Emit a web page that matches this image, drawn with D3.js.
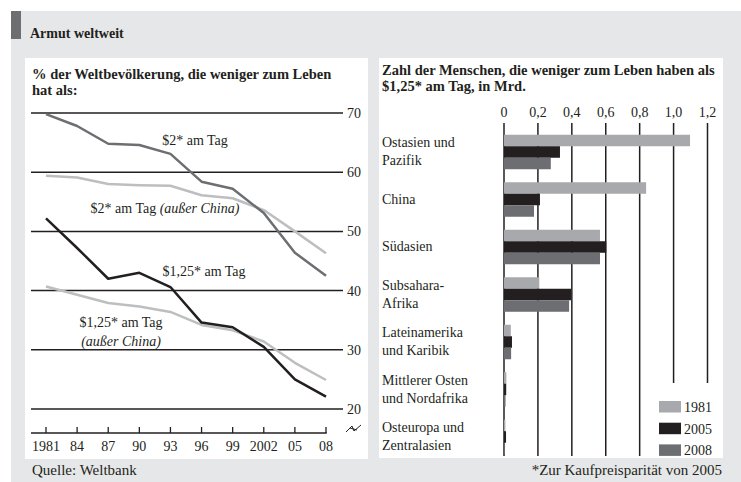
<!DOCTYPE html>
<html>
<head>
<meta charset="utf-8">
<script src="https://cdn.jsdelivr.net/npm/d3@7"></script>
<style>
body{margin:0;background:#fff;}
text{font-family:"Liberation Serif","Times New Roman",serif;fill:#231f20;}
</style>
</head>
<body>
<div></div>
<script>
// linke Grafik: Anteil an der Weltbevölkerung in %
let years = [1981,1984,1987,1990,1993,1996,1999,2002,2005,2008];
let yearLabels = ["1981","84","87","90","93","96","99","2002","05","08"];
let usd2 = [69.8,67.8,64.8,64.6,63.1,58.4,57.2,53.1,46.4,42.5];
let usd2ExChina = [59.4,59.1,58.0,57.8,57.7,56.1,55.6,53.6,50.0,46.3];
let usd125 = [52.2,47.2,42.0,43.0,40.6,34.6,33.8,30.5,25.0,22.1];
let usd125ExChina = [40.7,39.3,37.9,37.3,36.4,34.2,33.3,31.4,27.8,24.9];
let pctTicks = [20,30,40,50,60,70];

// rechte Grafik: Menschen in Mrd.
let regions = [["Ostasien und","Pazifik"],["China"],["Südasien"],["Subsahara-","Afrika"],["Lateinamerika","und Karibik"],["Mittlerer Osten","und Nordafrika"],["Osteuropa und","Zentralasien"]];
let barYears = ["1981","2005","2008"];
let v1981 = [1.097,0.838,0.566,0.208,0.040,0.014,0.008];
let v2005 = [0.330,0.212,0.603,0.395,0.047,0.013,0.012];
let v2008 = [0.276,0.177,0.566,0.384,0.042,0.009,0.004];
let mrdTicks = [0,0.2,0.4,0.6,0.8,1.0,1.2];
let mrdLabels = ["0","0,2","0,4","0,6","0,8","1,0","1,2"];

let black = "#231f20", dark = "#6d6e71", light = "#bcbec0", barLight = "#a7a9ac";

let svg = d3.select("body div").append("svg")
    .attr("width",741).attr("height",482);

// Hintergrund
svg.append("rect").attr("x",11).attr("y",11).attr("width",730).attr("height",471).attr("fill","#e6e7e8");
svg.append("rect").attr("x",11).attr("y",11).attr("width",10).attr("height",28).attr("fill",dark);
svg.append("text").attr("x",30).attr("y",38).attr("font-size",14).attr("font-weight","bold").text("Armut weltweit");
svg.append("rect").attr("x",25).attr("y",58).attr("width",343).attr("height",401).attr("fill","#fff");
svg.append("rect").attr("x",379).attr("y",58).attr("width",344).attr("height",400).attr("fill","#fff");

// ---------- linke Grafik ----------
let x = d3.scaleLinear().domain([1981,2008]).range([46,326]);
let y = d3.scaleLinear().domain([20,70]).range([409,113]);

let lt = svg.append("text").attr("x",32).attr("font-size",14.5).attr("font-weight","bold");
lt.append("tspan").attr("x",32).attr("y",79).text("% der Weltbevölkerung, die weniger zum Leben");
lt.append("tspan").attr("x",32).attr("y",94.5).text("hat als:");

pctTicks.forEach(function(t){
    svg.append("line").attr("x1",31).attr("x2",343).attr("y1",y(t)).attr("y2",y(t))
        .attr("stroke",black).attr("stroke-width",1.5);
    svg.append("text").attr("x",347).attr("y",y(t)+5).attr("font-size",14).text(t);
});

// x-Achse
svg.append("line").attr("x1",31).attr("x2",x(2008)+0.75).attr("y1",433).attr("y2",433)
    .attr("stroke",black).attr("stroke-width",1.5);
years.forEach(function(yr,i){
    svg.append("line").attr("x1",x(yr)).attr("x2",x(yr)).attr("y1",433).attr("y2",427)
        .attr("stroke",black).attr("stroke-width",1.3);
    svg.append("text").attr("x",x(yr)).attr("y",451).attr("font-size",14)
        .attr("text-anchor","middle").text(yearLabels[i]);
});
// Achsenbruch
svg.append("path").attr("d","M346,432 L352,426 L354,431 L361,425 M350,428 L357,430")
    .attr("fill","none").attr("stroke",black).attr("stroke-width",1);

let line = d3.line().x(function(d,i){return x(years[i]);}).y(function(d){return y(d);});
[[usd2ExChina,light],[usd125ExChina,light],[usd2,dark],[usd125,black]].forEach(function(s){
    svg.append("path").attr("d",line(s[0])).attr("fill","none")
        .attr("stroke",s[1]).attr("stroke-width",2.5).attr("stroke-linejoin","round");
});

svg.append("text").attr("x",195).attr("y",145).attr("font-size",14).attr("text-anchor","middle").text("$2* am Tag");
let t2 = svg.append("text").attr("x",165).attr("y",213).attr("font-size",14).attr("text-anchor","middle");
t2.append("tspan").text("$2* am Tag ");
t2.append("tspan").attr("font-style","italic").text("(außer China)");
svg.append("text").attr("x",204).attr("y",276).attr("font-size",14).attr("text-anchor","middle").text("$1,25* am Tag");
svg.append("text").attr("x",121).attr("y",327).attr("font-size",14).attr("text-anchor","middle").text("$1,25* am Tag");
svg.append("text").attr("x",121).attr("y",346).attr("font-size",14).attr("text-anchor","middle")
    .attr("font-style","italic").text("(außer China)");

// ---------- rechte Grafik ----------
let xr = d3.scaleLinear().domain([0,1.2]).range([504,707.5]);
let yr = d3.scalePoint().domain(d3.range(regions.length)).range([152,437]);
let yb = d3.scaleBand().domain(barYears).range([-17.25,17.25]);
let barColor = d3.scaleOrdinal().domain(barYears).range([barLight,black,dark]);

let rt = svg.append("text").attr("font-size",14.5).attr("font-weight","bold");
rt.append("tspan").attr("x",382).attr("y",75).text("Zahl der Menschen, die weniger zum Leben haben als");
rt.append("tspan").attr("x",382).attr("y",90.5).text("$1,25* am Tag, in Mrd.");

mrdTicks.forEach(function(t,i){
    svg.append("line").attr("x1",xr(t)).attr("x2",xr(t)).attr("y1",123).attr("y2",t>=1?383:456)
        .attr("stroke",black).attr("stroke-width",1.5);
    svg.append("text").attr("x",xr(t)).attr("y",117).attr("font-size",14)
        .attr("text-anchor","middle").text(mrdLabels[i]);
});

let series = {"1981":v1981,"2005":v2005,"2008":v2008};
regions.forEach(function(r,i){
    barYears.forEach(function(b){
        svg.append("rect").attr("x",xr(0)).attr("y",yr(i)+yb(b))
            .attr("width",xr(series[b][i])-xr(0)).attr("height",yb.bandwidth())
            .attr("fill",barColor(b));
    });
    r.forEach(function(ln,j){
        svg.append("text").attr("x",382).attr("y",yr(i)+4+(j-(r.length-1)/2)*18)
            .attr("font-size",14).text(ln);
    });
});

// Legende
barYears.forEach(function(b,i){
    svg.append("rect").attr("x",659).attr("y",401+i*21.7).attr("width",22).attr("height",11.5)
        .attr("fill",barColor(b));
    svg.append("text").attr("x",684).attr("y",412+i*21.7).attr("font-size",14).text(b);
});

// Fußzeile
svg.append("text").attr("x",32).attr("y",475).attr("font-size",15).text("Quelle: Weltbank");
svg.append("text").attr("x",722).attr("y",475).attr("font-size",15).attr("text-anchor","end")
    .text("*Zur Kaufpreisparität von 2005");
</script>
</body>
</html>
